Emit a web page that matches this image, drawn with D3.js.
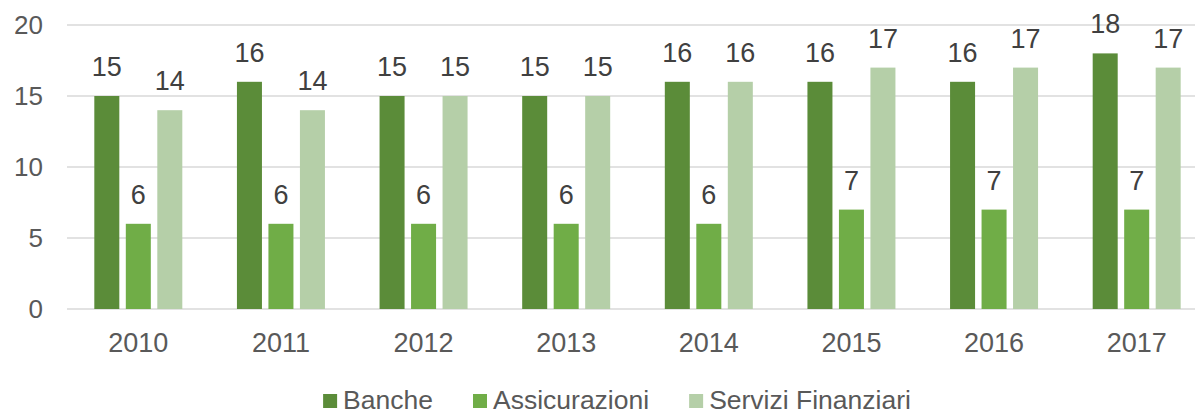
<!DOCTYPE html>
<html>
<head>
<meta charset="utf-8">
<script src="https://cdn.jsdelivr.net/npm/d3@7/dist/d3.min.js"></script>
<style>
  html, body { margin: 0; padding: 0; background: #fff; }
  svg { display: block; font-family: "Liberation Sans", Arial, sans-serif; }
</style>
</head>
<body>
<svg id="chart" width="1195" height="414"></svg>
<script>
const years = ["2010","2011","2012","2013","2014","2015","2016","2017"];
const seriesNames = ["Banche","Assicurazioni","Servizi Finanziari"];
const banche = [15,16,15,15,16,16,16,18];
const assicurazioni = [6,6,6,6,6,7,7,7];
const serviziFinanziari = [14,14,15,15,16,17,17,17];
const yTicks = [0,5,10,15,20];
const colors = ["#5b8c39","#70ad47","#b5cfa8"];

const seriesValues = [banche, assicurazioni, serviziFinanziari];
const svg = d3.select("#chart");

const plotLeft = 67, plotRight = 1208, plotTop = 25, plotBottom = 309;

const x = d3.scaleBand().domain(years).range([plotLeft, plotRight])
  .paddingInner(0.383).paddingOuter(0.1915);
const xs = d3.scaleBand().domain(seriesNames).range([0, x.bandwidth()])
  .paddingInner(0.206).paddingOuter(0);
const y = d3.scaleLinear().domain([0,20]).range([plotBottom, plotTop]);

// gridlines
svg.append("g").selectAll("line").data(yTicks).join("line")
  .attr("x1", plotLeft).attr("x2", plotRight)
  .attr("y1", d => y(d)).attr("y2", d => y(d))
  .attr("stroke", "#d9d9d9").attr("stroke-width", 1.5);

// y axis labels
const yAxis = d3.axisLeft(y).tickValues(yTicks).tickSize(0).tickPadding(0);
const yg = svg.append("g").attr("transform", `translate(${43},0)`).call(yAxis);
yg.select(".domain").remove();
yg.selectAll("text").attr("font-size", 26).attr("fill", "#595959")
  .attr("font-family", "Liberation Sans, Arial, sans-serif");

// x axis labels
const xAxis = d3.axisBottom(x).tickSize(0).tickPadding(0);
const xg = svg.append("g").attr("transform", `translate(0,${plotBottom})`).call(xAxis);
xg.select(".domain").remove();
xg.selectAll("text").attr("font-size", 27).attr("fill", "#595959")
  .attr("dy", null).attr("y", 43)
  .attr("font-family", "Liberation Sans, Arial, sans-serif");

// bars
const groups = svg.append("g").selectAll("g").data(years).join("g")
  .attr("transform", d => `translate(${x(d)},0)`);

groups.each(function(year, i) {
  const g = d3.select(this);
  const rows = seriesNames.map((s, k) => ({s, k, v: seriesValues[k][i]}));
  g.selectAll("rect").data(rows).join("rect")
    .attr("x", d => xs(d.s)).attr("width", xs.bandwidth())
    .attr("y", d => y(d.v)).attr("height", d => y(0) - y(d.v))
    .attr("fill", d => colors[d.k]);
  g.selectAll("text").data(rows).join("text")
    .attr("x", d => xs(d.s) + xs.bandwidth()/2)
    .attr("y", d => y(d.v) - 20)
    .attr("text-anchor", "middle")
    .attr("font-size", 27).attr("fill", "#404040")
    .text(d => d.v);
});

// legend
const legend = svg.append("g");
const fontSize = 26.5, sw = 14, gapST = 6, gapItems = 40;
const tmp = svg.append("text").attr("font-size", fontSize);
const widths = seriesNames.map(n => { tmp.text(n); return tmp.node().getComputedTextLength(); });
tmp.remove();
const total = widths.reduce((a,w) => a + sw + gapST + w, 0) + gapItems*(seriesNames.length-1);
let cx = 617 - total/2;
seriesNames.forEach((n, k) => {
  legend.append("rect").attr("x", cx).attr("y", 394).attr("width", sw).attr("height", sw)
    .attr("fill", colors[k]);
  legend.append("text").attr("x", cx + sw + gapST).attr("y", 409)
    .attr("font-size", fontSize).attr("fill", "#595959").text(n);
  cx += sw + gapST + widths[k] + gapItems;
});
</script>
</body>
</html>
